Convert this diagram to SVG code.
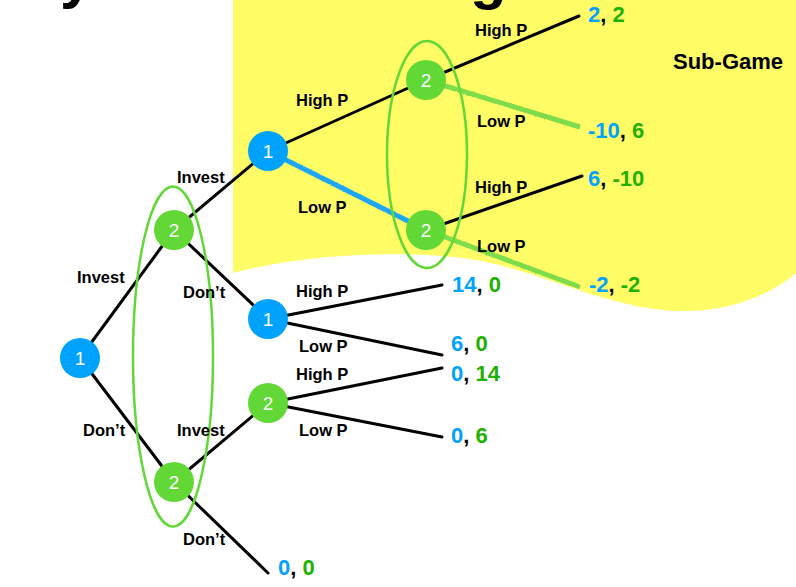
<svg xmlns="http://www.w3.org/2000/svg" width="796" height="587" viewBox="0 0 796 587">
<style>
.edge{stroke:#000;stroke-width:3;stroke-linecap:round;fill:none}
.hl{stroke-width:5;stroke-linecap:butt;fill:none;filter:url(#rough)}
.lbl{font-family:"Liberation Sans",Arial,sans-serif;font-weight:bold;font-size:16.5px;fill:#000}
.pay{font-family:"Liberation Sans",Arial,sans-serif;font-weight:bold;font-size:22px;fill:#000}
.b{fill:#00A2FF}
.g{fill:#1DB100}
.nb{fill:#00A2FF}
.ng{fill:#61D836}
.nt{font-family:"Liberation Sans",Arial,sans-serif;font-size:19px;fill:#fff;text-anchor:middle}
.info{fill:none;stroke:#61D836;stroke-width:2.5}
</style>
<defs>
<filter id="rough" x="-10%" y="-50%" width="120%" height="200%">
<feTurbulence type="fractalNoise" baseFrequency="0.9" numOctaves="2" result="n"/>
<feDisplacementMap in="SourceGraphic" in2="n" scale="2.5"/>
</filter>
</defs>
<rect width="796" height="587" fill="#fff"/>
<path d="M233,0 H796 V273 C770,295 730,312 680,311 C610,310 540,270 470,259 C420,252 320,250 233,273 Z" fill="#FFFC66"/>
<text x="60" y="-3" font-family="Liberation Sans,Arial,sans-serif" font-weight="bold" font-size="60" fill="#000">y</text>
<text x="470" y="-2" font-family="Liberation Sans,Arial,sans-serif" font-weight="bold" font-size="60" fill="#000">g</text>
<text x="673" y="69" class="pay" style="font-size:22px">Sub-Game</text>
<g id="connectors">
<line class="edge" x1="80" y1="358" x2="174" y2="230"/>
<line class="edge" x1="80" y1="358" x2="174" y2="482"/>
<line class="edge" x1="174" y1="230" x2="268" y2="151"/>
<line class="edge" x1="174" y1="230" x2="268" y2="319"/>
<line class="edge" x1="174" y1="482" x2="268" y2="403"/>
<line class="edge" x1="174" y1="482" x2="268" y2="573"/>
<line class="edge" x1="268" y1="151" x2="426" y2="80"/>
<line class="edge" x1="426" y1="80" x2="579" y2="16"/>
<line class="edge" x1="426" y1="230" x2="582" y2="176"/>
<line class="edge" x1="268" y1="319" x2="442" y2="285"/>
<line class="edge" x1="268" y1="319" x2="442" y2="355"/>
<line class="edge" x1="268" y1="403" x2="442" y2="368"/>
<line class="edge" x1="268" y1="403" x2="442" y2="437"/>
<line class="hl" stroke="#1AA6F5" x1="268" y1="151" x2="426" y2="230"/>
<line class="hl" stroke="#7EDB4A" x1="426" y1="80" x2="580" y2="127"/>
<line class="hl" stroke="#7EDB4A" x1="426" y1="230" x2="580" y2="287"/>
</g>
<g id="info-sets">
<ellipse class="info" cx="173" cy="356.5" rx="40" ry="170"/>
<ellipse class="info" cx="427" cy="154.5" rx="40" ry="113.5"/>
</g>
<g id="n-root"><circle class="nb" cx="80" cy="358" r="20"/><text class="nt" x="80" y="365">1</text></g>
<g id="n-p2-top"><circle class="ng" cx="174" cy="230" r="20"/><text class="nt" x="174" y="237">2</text></g>
<g id="n-p2-bot"><circle class="ng" cx="174" cy="482" r="20"/><text class="nt" x="174" y="489">2</text></g>
<g id="n-p1-up"><circle class="nb" cx="268" cy="151" r="20"/><text class="nt" x="268" y="158">1</text></g>
<g id="n-p1-mid"><circle class="nb" cx="268" cy="319" r="20"/><text class="nt" x="268" y="326">1</text></g>
<g id="n-p2-mid"><circle class="ng" cx="268" cy="403" r="20"/><text class="nt" x="268" y="410">2</text></g>
<g id="n-p2-r1"><circle class="ng" cx="426" cy="80" r="20"/><text class="nt" x="426" y="87">2</text></g>
<g id="n-p2-r2"><circle class="ng" cx="426" cy="230" r="20"/><text class="nt" x="426" y="237">2</text></g>
<g id="labels">
<text class="lbl" x="475" y="36">High P</text>
<text class="lbl" x="477" y="127">Low P</text>
<text class="lbl" x="296" y="106">High P</text>
<text class="lbl" x="298" y="213">Low P</text>
<text class="lbl" x="475" y="193">High P</text>
<text class="lbl" x="477" y="252">Low P</text>
<text class="lbl" x="177" y="183">Invest</text>
<text class="lbl" x="77" y="283">Invest</text>
<text class="lbl" x="183" y="298">Don’t</text>
<text class="lbl" x="296" y="297">High P</text>
<text class="lbl" x="299" y="352">Low P</text>
<text class="lbl" x="296" y="380">High P</text>
<text class="lbl" x="299" y="436">Low P</text>
<text class="lbl" x="83" y="436">Don’t</text>
<text class="lbl" x="177" y="436">Invest</text>
<text class="lbl" x="183" y="545">Don’t</text>
</g>
<g id="payoffs">
<text class="pay" x="588" y="22"><tspan class="b">2</tspan>, <tspan class="g">2</tspan></text>
<text class="pay" x="588" y="138"><tspan class="b">-10</tspan>, <tspan class="g">6</tspan></text>
<text class="pay" x="588" y="186"><tspan class="b">6</tspan>, <tspan class="g">-10</tspan></text>
<text class="pay" x="589" y="292"><tspan class="b">-2</tspan>, <tspan class="g">-2</tspan></text>
<text class="pay" x="452" y="292"><tspan class="b">14</tspan>, <tspan class="g">0</tspan></text>
<text class="pay" x="451" y="351"><tspan class="b">6</tspan>, <tspan class="g">0</tspan></text>
<text class="pay" x="451" y="381"><tspan class="b">0</tspan>, <tspan class="g">14</tspan></text>
<text class="pay" x="451" y="443"><tspan class="b">0</tspan>, <tspan class="g">6</tspan></text>
<text class="pay" x="278" y="575"><tspan class="b">0</tspan>, <tspan class="g">0</tspan></text>
</g>
</svg>
